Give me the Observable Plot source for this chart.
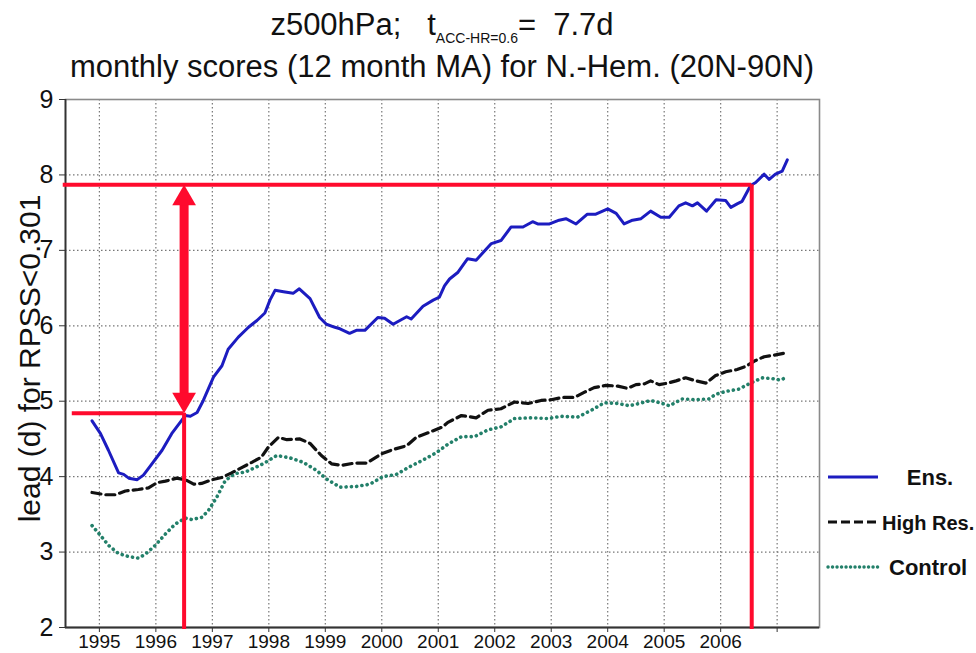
<!DOCTYPE html>
<html>
<head>
<meta charset="utf-8">
<script src="https://cdn.jsdelivr.net/npm/d3@7"></script>
<script src="https://cdn.jsdelivr.net/npm/@observablehq/plot@0.6"></script>
<style>
  html, body { margin: 0; padding: 0; background: #fff; }
  #wrap { position: relative; width: 976px; height: 653px; overflow: hidden; }
  #wrap svg.plot { position: absolute; left: 0; top: 0; }
  .ttl { position: absolute; left: 65px; width: 754px; text-align: center; color: #111;
         font-family: "Liberation Sans", Arial, sans-serif; white-space: nowrap; line-height: 36px; }
  #t1 { top: 7px; font-size: 31px; }
  #t2 { top: 49px; font-size: 31px; }
  #t1 sub { font-size: 14px; vertical-align: -8px; line-height: 0; }
  #legend { position: absolute; left: 0; top: 0; }
</style>
</head>
<body>
<div id="wrap">
  <div class="ttl" id="t1">z500hPa;&nbsp;&nbsp; t<sub>ACC-HR=0.6</sub>=&nbsp; 7.7d</div>
  <div class="ttl" id="t2">monthly scores (12 month MA) for N.-Hem. (20N-90N)</div>
</div>
<script>
// ---- data ----
const ensX = [1994.87,1995.02,1995.16,1995.34,1995.43,1995.52,1995.67,1995.78,1995.93,1996.11,1996.28,1996.43,1996.52,1996.61,1996.73,1996.84,1997.02,1997.17,1997.28,1997.46,1997.64,1997.79,1997.93,1998.02,1998.11,1998.26,1998.43,1998.54,1998.73,1998.90,1999.02,1999.17,1999.26,1999.43,1999.55,1999.70,1999.93,2000.05,2000.20,2000.44,2000.52,2000.73,2000.91,2001.02,2001.11,2001.20,2001.35,2001.52,2001.67,2001.94,2002.11,2002.29,2002.50,2002.67,2002.76,2002.97,2003.14,2003.26,2003.44,2003.64,2003.79,2004.00,2004.15,2004.29,2004.44,2004.59,2004.76,2004.94,2005.09,2005.26,2005.38,2005.50,2005.59,2005.75,2005.92,2006.09,2006.18,2006.30,2006.38,2006.53,2006.62,2006.77,2006.86,2006.97,2007.09,2007.18];
const ensY = [4.74,4.57,4.35,4.05,4.03,3.98,3.96,4.02,4.17,4.35,4.57,4.72,4.81,4.80,4.85,5.01,5.32,5.47,5.69,5.85,5.98,6.07,6.17,6.34,6.47,6.45,6.43,6.49,6.36,6.11,6.02,5.98,5.96,5.90,5.94,5.94,6.11,6.10,6.02,6.12,6.09,6.26,6.34,6.38,6.53,6.62,6.71,6.89,6.87,7.09,7.13,7.31,7.31,7.38,7.35,7.35,7.40,7.42,7.35,7.48,7.48,7.55,7.49,7.35,7.40,7.42,7.52,7.44,7.44,7.59,7.63,7.59,7.63,7.52,7.67,7.66,7.57,7.62,7.65,7.86,7.90,8.01,7.94,8.01,8.05,8.20];

const hresX = [1994.87,1995.11,1995.28,1995.46,1995.69,1995.87,1996.02,1996.17,1996.37,1996.52,1996.67,1996.81,1997.00,1997.17,1997.34,1997.52,1997.70,1997.87,1997.99,1998.17,1998.32,1998.55,1998.73,1998.93,1999.11,1999.29,1999.52,1999.73,1999.99,2000.20,2000.44,2000.61,2000.85,2001.08,2001.17,2001.41,2001.67,2001.88,2002.11,2002.35,2002.59,2002.82,2003.00,2003.20,2003.41,2003.59,2003.76,2003.97,2004.18,2004.35,2004.50,2004.65,2004.76,2004.91,2005.06,2005.21,2005.38,2005.56,2005.74,2005.91,2006.09,2006.29,2006.44,2006.62,2006.77,2006.94,2007.15];
const hresY = [3.79,3.76,3.76,3.81,3.83,3.85,3.92,3.94,3.98,3.96,3.90,3.91,3.96,3.99,4.05,4.12,4.19,4.26,4.39,4.52,4.49,4.50,4.44,4.28,4.17,4.15,4.18,4.18,4.30,4.36,4.41,4.52,4.59,4.66,4.72,4.81,4.78,4.88,4.90,4.99,4.97,5.01,5.02,5.05,5.05,5.12,5.18,5.21,5.20,5.17,5.22,5.23,5.27,5.22,5.24,5.27,5.31,5.27,5.24,5.34,5.39,5.42,5.46,5.54,5.59,5.61,5.64];

const ctrlX = [1994.87,1995.02,1995.16,1995.34,1995.52,1995.69,1995.81,1995.99,1996.17,1996.34,1996.52,1996.64,1996.81,1996.93,1997.08,1997.23,1997.40,1997.58,1997.76,1997.90,1998.14,1998.37,1998.61,1998.85,1999.02,1999.26,1999.55,1999.79,2000.02,2000.26,2000.49,2000.73,2000.97,2001.17,2001.41,2001.64,2001.88,2002.11,2002.35,2002.64,2002.94,2003.17,2003.47,2003.71,2003.94,2004.18,2004.38,2004.56,2004.76,2004.97,2005.09,2005.32,2005.56,2005.79,2005.91,2006.09,2006.32,2006.50,2006.74,2006.91,2007.06,2007.17];
const ctrlY = [3.35,3.22,3.09,2.98,2.94,2.92,2.97,3.09,3.24,3.37,3.45,3.43,3.46,3.55,3.73,3.95,4.04,4.06,4.12,4.17,4.28,4.25,4.19,4.08,3.97,3.86,3.87,3.90,4.00,4.03,4.13,4.22,4.32,4.43,4.53,4.53,4.62,4.66,4.77,4.78,4.77,4.80,4.79,4.88,4.98,4.97,4.94,4.97,5.01,4.97,4.94,5.03,5.02,5.03,5.09,5.13,5.16,5.23,5.31,5.30,5.28,5.32];

const yearTicks = [1995,1996,1997,1998,1999,2000,2001,2002,2003,2004,2005,2006,2007];
const yearLabels = ["1995","1996","1997","1998","1999","2000","2001","2002","2003","2004","2005","2006",""];
const leadTicks = [2,3,4,5,6,7,8,9];

// annotation: lead reached by the ensemble (start and end) and the dates
const markYears = [1996.5, 2006.55];
const markLeads = [4.84, 7.87];
const markStartX = [1994.52, 1994.36];

const seriesNames = ["Ens.", "High Res.", "Control"];
const seriesColors = ["#1c1cc0", "#111111", "#23806a"];

// ---- build ----
const ens = ensX.map((x, i) => ({x, y: ensY[i]}));
const hres = hresX.map((x, i) => ({x, y: hresY[i]}));
const ctrl = ctrlX.map((x, i) => ({x, y: ctrlY[i]}));
const hLines = markYears.map((yr, i) => ({x1: markStartX[i], x2: yr, y: markLeads[i]}));
const vLines = markYears.map((yr, i) => ({x: yr, y1: markLeads[i], y2: 2}));
const RED = "#ff0a2d";

const plot = Plot.plot({
  width: 976,
  height: 653,
  marginLeft: 65,
  marginRight: 157,
  marginTop: 99,
  marginBottom: 26,
  style: {background: "transparent", overflow: "visible"},
  x: {domain: [1994.4, 2007.75]},
  y: {domain: [2, 9]},
  marks: [
    Plot.gridX(yearTicks, {stroke: "#777", strokeOpacity: 1, strokeWidth: 1.2, strokeDasharray: "1.5,2.5"}),
    Plot.gridY(leadTicks, {stroke: "#777", strokeOpacity: 1, strokeWidth: 1.2, strokeDasharray: "1.5,2.5"}),
    Plot.frame({stroke: "#8a8a8a", strokeWidth: 1.6}),
    Plot.axisX({ticks: yearTicks, tickFormat: d => yearLabels[yearTicks.indexOf(d)], tickSize: 5, tickPadding: 2,
      fontSize: 19, fontFamily: "Liberation Sans, Arial, sans-serif", stroke: "#333", fill: "#111", label: null}),
    Plot.axisY({ticks: leadTicks, tickFormat: d => String(d), tickSize: 6, tickPadding: 6,
      fontSize: 25, fontFamily: "Liberation Sans, Arial, sans-serif", stroke: "#333", fill: "#111", label: null}),
    Plot.ruleX([1994.4], {stroke: "#333", strokeWidth: 1.8}),
    Plot.ruleY([2], {stroke: "#333", strokeWidth: 1.8}),
    Plot.line(ctrl, {x: "x", y: "y", stroke: seriesColors[2], strokeWidth: 3.6, strokeDasharray: "0.1,5.2", strokeLinecap: "round"}),
    Plot.line(hres, {x: "x", y: "y", stroke: seriesColors[1], strokeWidth: 3.2, strokeDasharray: "9,5"}),
    Plot.line(ens, {x: "x", y: "y", stroke: seriesColors[0], strokeWidth: 3}),
    Plot.ruleY(hLines, {x1: "x1", x2: "x2", y: "y", stroke: RED, strokeWidth: 4}),
    Plot.ruleX(vLines, {x: "x", y1: "y1", y2: "y2", stroke: RED, strokeWidth: 4, insetBottom: -2}),
    Plot.ruleX([markYears[0]], {x: d => d, y1: markLeads[1], y2: markLeads[0], stroke: RED, strokeWidth: 9, insetTop: 18, insetBottom: 18}),
    Plot.dot([markLeads[1]], {x: () => markYears[0], y: d => d, symbol: "triangle", r: 8.8, fill: RED, stroke: "none", dy: 13.6}),
    Plot.dot([markLeads[0]], {x: () => markYears[0], y: d => d, symbol: "triangle", r: 8.8, fill: RED, stroke: "none", rotate: 180, dy: -13.6}),
    Plot.text(["lead (d) for RPSS<0.301"], {frameAnchor: "left", textAnchor: "middle", rotate: -90, dx: -35, dy: -5, fontSize: 30,
      fontFamily: "Liberation Sans, Arial, sans-serif", fill: "#111", text: d => d})
  ]
});
plot.classList.add("plot");
const wrap = document.getElementById("wrap");
wrap.insertBefore(plot, wrap.firstChild);

// legend (outside the frame, to the right)
const ns = "http://www.w3.org/2000/svg";
const lg = document.createElementNS(ns, "svg");
lg.setAttribute("id", "legend");
lg.setAttribute("width", 976); lg.setAttribute("height", 653);
const legendRows = [
  {y: 477, dash: null, cap: "butt", w: 3, tx: 930, anchor: "middle", fs: 22},
  {y: 522, dash: "9,4", cap: "butt", w: 3, tx: 882, anchor: "start", fs: 20},
  {y: 567, dash: "0.1,4.4", cap: "round", w: 3.4, tx: 889, anchor: "start", fs: 22}
];
legendRows.forEach((r, i) => {
  const ln = document.createElementNS(ns, "line");
  ln.setAttribute("x1", 828); ln.setAttribute("x2", 878);
  ln.setAttribute("y1", r.y); ln.setAttribute("y2", r.y);
  ln.setAttribute("stroke", seriesColors[i]); ln.setAttribute("stroke-width", r.w);
  ln.setAttribute("stroke-linecap", r.cap);
  if (r.dash) ln.setAttribute("stroke-dasharray", r.dash);
  lg.appendChild(ln);
  const t = document.createElementNS(ns, "text");
  t.setAttribute("x", r.tx); t.setAttribute("y", r.y + 8);
  t.setAttribute("text-anchor", r.anchor);
  t.setAttribute("font-family", "Liberation Sans, Arial, sans-serif");
  t.setAttribute("font-weight", "bold");
  t.setAttribute("font-size", r.fs);
  t.setAttribute("fill", "#111");
  t.textContent = seriesNames[i];
  lg.appendChild(t);
});
wrap.appendChild(lg);
</script>
</body>
</html>
